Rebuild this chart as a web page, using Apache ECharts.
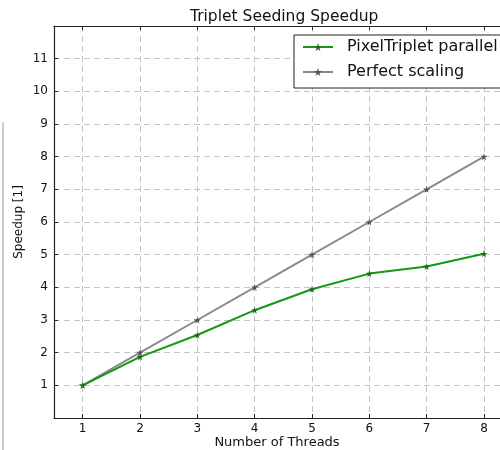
<!DOCTYPE html>
<html><head><meta charset="utf-8">
<script src="https://cdn.jsdelivr.net/npm/echarts@6/dist/echarts.min.js"></script>
<style>html,body{margin:0;padding:0;background:#fff}#c{width:500px;height:450px}</style>
</head><body><div id="c"></div>
<script>
const threads = [1, 2, 3, 4, 5, 6, 7, 8];
const pixelTriplet = [1, 1.87, 2.54, 3.30, 3.94, 4.42, 4.64, 5.03];
const perfect = [1, 2, 3, 4, 5, 6, 7, 8];
const yTicks = [1, 2, 3, 4, 5, 6, 7, 8, 9, 10, 11];

const star = 'path://M50,0 L61,35 L98,35 L68,57 L79,91 L50,70 L21,91 L32,57 L2,35 L39,35 Z';
const font = 'DejaVu Sans';
const chart = echarts.init(document.getElementById('c'), null, {renderer: 'canvas'});
chart.setOption({
  animation: false,
  backgroundColor: '#fff',
  textStyle: {fontFamily: font},
  title: {text: 'Triplet Seeding Speedup', left: 185, top: 4,
    textStyle: {fontFamily: font, fontSize: 15.5, fontWeight: 'normal', color: '#111'}},
  grid: {left: 54, top: 26, right: 0, bottom: 32, containLabel: false, outerBoundsMode: 'none', show: false},
  legend: {
    left: 294, top: 35, orient: 'vertical',
    backgroundColor: '#fff', borderColor: '#222', borderWidth: 1, borderRadius: 0,
    padding: [4, 40, 8, 8], itemGap: 9, itemWidth: 30, itemHeight: 10,
    textStyle: {fontFamily: font, fontSize: 16, color: '#111', padding: [0, 0, 0, 9]},
    data: ['PixelTriplet parallel', 'Perfect scaling']
  },
  xAxis: [{
    type: 'value', min: 0.5, max: 8.28,
    name: 'Number of Threads', nameLocation: 'middle', nameGap: 18, nameMoveOverlap: false,
    nameTextStyle: {fontFamily: font, fontSize: 13, color: '#111'},
    axisLine: {lineStyle: {color: '#222', width: 1.2}},
    axisTick: {inside: true, length: 4, customValues: threads, lineStyle: {color: '#222'}},
    axisLabel: {customValues: threads, fontFamily: font, fontSize: 12, color: '#111', margin: 5},
    splitLine: {show: true, lineStyle: {color: '#c4c4c4', type: [6, 4], width: 1}}
  }, {
    type: 'value', position: 'top', min: 0.5, max: 8.28,
    axisLine: {show: true, onZero: false, lineStyle: {color: '#222', width: 1.2}},
    axisTick: {show: true, inside: true, length: 4, customValues: threads, lineStyle: {color: '#222'}},
    axisLabel: {show: false}, splitLine: {show: false}
  }],
  yAxis: {
    type: 'value', min: 0, max: 12,
    name: 'Speedup [1]', nameLocation: 'middle', nameGap: 29, nameMoveOverlap: false,
    nameTextStyle: {fontFamily: font, fontSize: 12, color: '#111'},
    axisLine: {show: true, lineStyle: {color: '#222', width: 1.2}},
    axisTick: {show: true, inside: true, length: 4, customValues: yTicks, lineStyle: {color: '#222'}},
    axisLabel: {customValues: yTicks, fontFamily: font, fontSize: 12, color: '#111', margin: 6},
    splitLine: {show: true, lineStyle: {color: '#c4c4c4', type: [6, 4], width: 1}}
  },
  series: [
    {name: 'PixelTriplet parallel', type: 'line', data: threads.map((t, i) => [t, pixelTriplet[i]]),
      symbol: star, symbolSize: 7, color: '#118811',
      lineStyle: {color: '#119911', width: 2},
      itemStyle: {color: '#226622'}, z: 3},
    {name: 'Perfect scaling', type: 'line', data: threads.map((t, i) => [t, perfect[i]]),
      symbol: star, symbolSize: 7, color: '#777',
      lineStyle: {color: '#8a8a8a', width: 2},
      itemStyle: {color: '#555'}, z: 2}
  ],
  graphic: [{type: 'line', shape: {x1: 3, y1: 122, x2: 3, y2: 450}, style: {stroke: '#bbb', lineWidth: 1.5}}]
});
</script></body></html>
